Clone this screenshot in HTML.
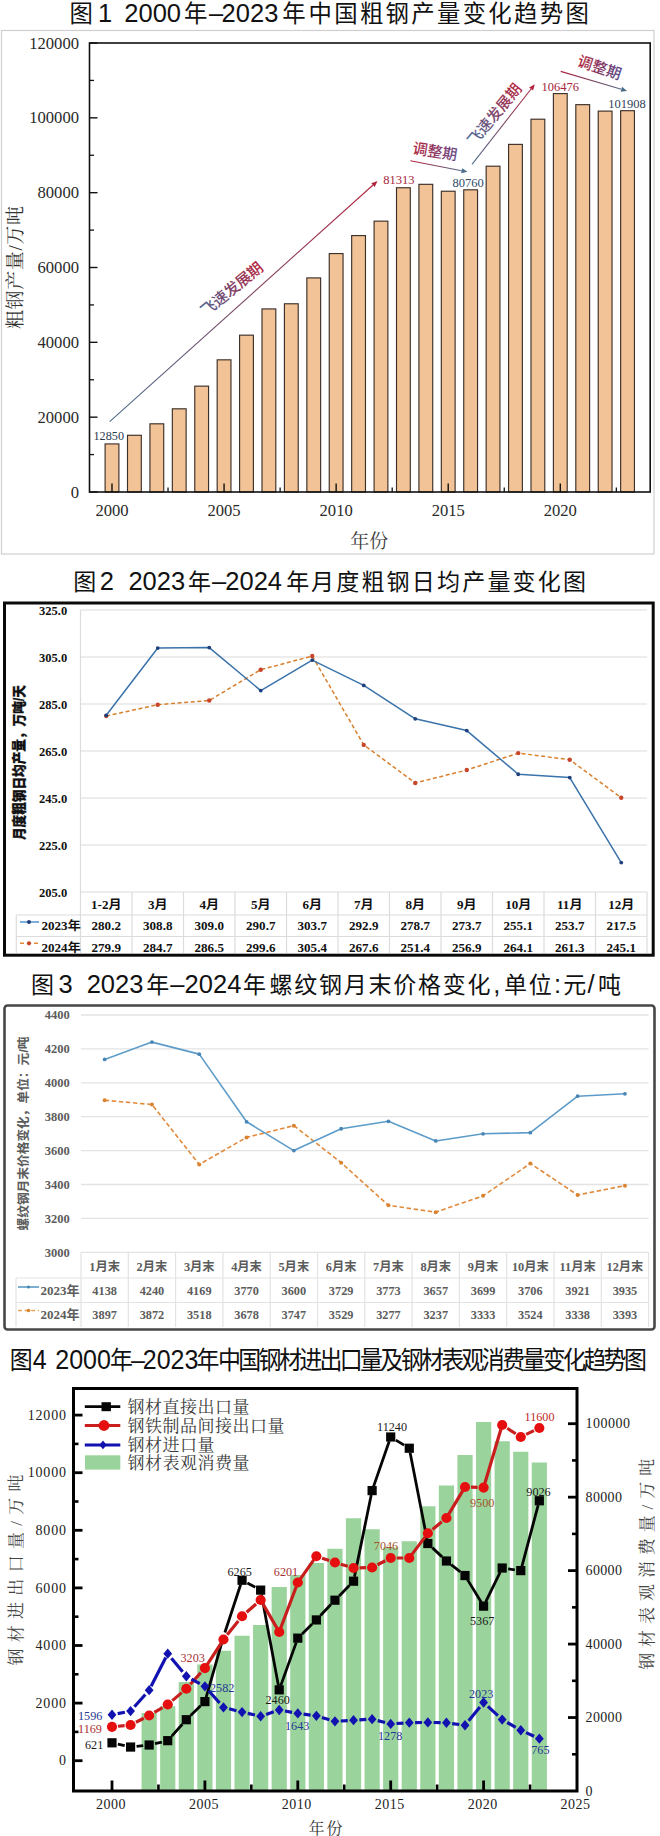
<!DOCTYPE html>
<html lang="zh"><head><meta charset="utf-8"><title>钢铁行业图表</title>
<style>
html,body{margin:0;padding:0;background:#fff;}
body{width:660px;height:1836px;overflow:hidden;}
svg{display:block;}
</style></head><body>
<svg width="660" height="1836" viewBox="0 0 660 1836">
<defs>
<linearGradient id="gbr" gradientUnits="objectBoundingBox" x1="0" y1="0" x2="1" y2="0"><stop offset="0" stop-color="#4b6f8f"/><stop offset="1" stop-color="#b3263f"/></linearGradient>
</defs>
<text y="21.9" fill="#111" font-family='"Liberation Sans","Noto Sans CJK SC",sans-serif' xml:space="preserve"><tspan x="69.6" font-size="23.4">图</tspan><tspan x="98" font-size="25.5">1</tspan><tspan x="124.3" font-size="25.5">2000</tspan><tspan x="184" font-size="23.4">年</tspan><tspan x="209" font-size="25.5">–</tspan><tspan x="221.6" font-size="25.5">2023</tspan><tspan x="282.2" font-size="23.4">年</tspan><tspan x="308.5" font-size="23.4" letter-spacing="2.3">中国粗钢产量变化趋势图</tspan></text>
<rect x="1.50" y="30.50" width="652.50" height="523.50" fill="none" stroke="#cfcfcf" stroke-width="1.2" />
<rect x="105.10" y="443.92" width="13.80" height="48.08" fill="#f1c396" stroke="#3d302a" stroke-width="1.15" />
<rect x="127.51" y="435.27" width="13.80" height="56.73" fill="#f1c396" stroke="#3d302a" stroke-width="1.15" />
<rect x="149.93" y="423.81" width="13.80" height="68.19" fill="#f1c396" stroke="#3d302a" stroke-width="1.15" />
<rect x="172.34" y="408.81" width="13.80" height="83.19" fill="#f1c396" stroke="#3d302a" stroke-width="1.15" />
<rect x="194.76" y="386.14" width="13.80" height="105.86" fill="#f1c396" stroke="#3d302a" stroke-width="1.15" />
<rect x="217.17" y="359.83" width="13.80" height="132.17" fill="#f1c396" stroke="#3d302a" stroke-width="1.15" />
<rect x="239.59" y="335.17" width="13.80" height="156.83" fill="#f1c396" stroke="#3d302a" stroke-width="1.15" />
<rect x="262.00" y="308.92" width="13.80" height="183.08" fill="#f1c396" stroke="#3d302a" stroke-width="1.15" />
<rect x="284.42" y="303.77" width="13.80" height="188.23" fill="#f1c396" stroke="#3d302a" stroke-width="1.15" />
<rect x="306.84" y="277.91" width="13.80" height="214.09" fill="#f1c396" stroke="#3d302a" stroke-width="1.15" />
<rect x="329.25" y="253.57" width="13.80" height="238.43" fill="#f1c396" stroke="#3d302a" stroke-width="1.15" />
<rect x="351.67" y="235.59" width="13.80" height="256.41" fill="#f1c396" stroke="#3d302a" stroke-width="1.15" />
<rect x="374.08" y="221.15" width="13.80" height="270.85" fill="#f1c396" stroke="#3d302a" stroke-width="1.15" />
<rect x="396.50" y="187.75" width="13.80" height="304.25" fill="#f1c396" stroke="#3d302a" stroke-width="1.15" />
<rect x="418.91" y="184.32" width="13.80" height="307.68" fill="#f1c396" stroke="#3d302a" stroke-width="1.15" />
<rect x="441.32" y="191.23" width="13.80" height="300.77" fill="#f1c396" stroke="#3d302a" stroke-width="1.15" />
<rect x="463.74" y="189.82" width="13.80" height="302.18" fill="#f1c396" stroke="#3d302a" stroke-width="1.15" />
<rect x="486.16" y="166.20" width="13.80" height="325.80" fill="#f1c396" stroke="#3d302a" stroke-width="1.15" />
<rect x="508.57" y="144.38" width="13.80" height="347.62" fill="#f1c396" stroke="#3d302a" stroke-width="1.15" />
<rect x="530.99" y="119.20" width="13.80" height="372.80" fill="#f1c396" stroke="#3d302a" stroke-width="1.15" />
<rect x="553.40" y="93.60" width="13.80" height="398.40" fill="#f1c396" stroke="#3d302a" stroke-width="1.15" />
<rect x="575.81" y="104.65" width="13.80" height="387.35" fill="#f1c396" stroke="#3d302a" stroke-width="1.15" />
<rect x="598.23" y="111.11" width="13.80" height="380.89" fill="#f1c396" stroke="#3d302a" stroke-width="1.15" />
<rect x="620.64" y="110.69" width="13.80" height="381.31" fill="#f1c396" stroke="#3d302a" stroke-width="1.15" />
<line x1="89.50" y1="492.00" x2="97.50" y2="492.00" stroke="#111" stroke-width="1.4" />
<text x="79.00" y="497.50" font-size="16.6" text-anchor="end" fill="#2a2a2a" font-family='"Liberation Serif","Noto Serif CJK SC",serif' xml:space="preserve">0</text>
<line x1="89.50" y1="454.58" x2="94.00" y2="454.58" stroke="#111" stroke-width="1.3" />
<line x1="89.50" y1="417.17" x2="97.50" y2="417.17" stroke="#111" stroke-width="1.4" />
<text x="79.00" y="422.67" font-size="16.6" text-anchor="end" fill="#2a2a2a" font-family='"Liberation Serif","Noto Serif CJK SC",serif' xml:space="preserve">20000</text>
<line x1="89.50" y1="379.75" x2="94.00" y2="379.75" stroke="#111" stroke-width="1.3" />
<line x1="89.50" y1="342.33" x2="97.50" y2="342.33" stroke="#111" stroke-width="1.4" />
<text x="79.00" y="347.83" font-size="16.6" text-anchor="end" fill="#2a2a2a" font-family='"Liberation Serif","Noto Serif CJK SC",serif' xml:space="preserve">40000</text>
<line x1="89.50" y1="304.92" x2="94.00" y2="304.92" stroke="#111" stroke-width="1.3" />
<line x1="89.50" y1="267.50" x2="97.50" y2="267.50" stroke="#111" stroke-width="1.4" />
<text x="79.00" y="273.00" font-size="16.6" text-anchor="end" fill="#2a2a2a" font-family='"Liberation Serif","Noto Serif CJK SC",serif' xml:space="preserve">60000</text>
<line x1="89.50" y1="230.08" x2="94.00" y2="230.08" stroke="#111" stroke-width="1.3" />
<line x1="89.50" y1="192.67" x2="97.50" y2="192.67" stroke="#111" stroke-width="1.4" />
<text x="79.00" y="198.17" font-size="16.6" text-anchor="end" fill="#2a2a2a" font-family='"Liberation Serif","Noto Serif CJK SC",serif' xml:space="preserve">80000</text>
<line x1="89.50" y1="155.25" x2="94.00" y2="155.25" stroke="#111" stroke-width="1.3" />
<line x1="89.50" y1="117.83" x2="97.50" y2="117.83" stroke="#111" stroke-width="1.4" />
<text x="79.00" y="123.33" font-size="16.6" text-anchor="end" fill="#2a2a2a" font-family='"Liberation Serif","Noto Serif CJK SC",serif' xml:space="preserve">100000</text>
<line x1="89.50" y1="80.42" x2="94.00" y2="80.42" stroke="#111" stroke-width="1.3" />
<line x1="89.50" y1="43.00" x2="97.50" y2="43.00" stroke="#111" stroke-width="1.4" />
<text x="79.00" y="48.50" font-size="16.6" text-anchor="end" fill="#2a2a2a" font-family='"Liberation Serif","Noto Serif CJK SC",serif' xml:space="preserve">120000</text>
<line x1="112.00" y1="492.00" x2="112.00" y2="483.50" stroke="#111" stroke-width="1.4" />
<text x="112.00" y="515.50" font-size="16.6" text-anchor="middle" fill="#2a2a2a" font-family='"Liberation Serif","Noto Serif CJK SC",serif' xml:space="preserve">2000</text>
<line x1="168.04" y1="492.00" x2="168.04" y2="487.50" stroke="#111" stroke-width="1.3" />
<line x1="224.07" y1="492.00" x2="224.07" y2="483.50" stroke="#111" stroke-width="1.4" />
<text x="224.07" y="515.50" font-size="16.6" text-anchor="middle" fill="#2a2a2a" font-family='"Liberation Serif","Noto Serif CJK SC",serif' xml:space="preserve">2005</text>
<line x1="280.11" y1="492.00" x2="280.11" y2="487.50" stroke="#111" stroke-width="1.3" />
<line x1="336.15" y1="492.00" x2="336.15" y2="483.50" stroke="#111" stroke-width="1.4" />
<text x="336.15" y="515.50" font-size="16.6" text-anchor="middle" fill="#2a2a2a" font-family='"Liberation Serif","Noto Serif CJK SC",serif' xml:space="preserve">2010</text>
<line x1="392.19" y1="492.00" x2="392.19" y2="487.50" stroke="#111" stroke-width="1.3" />
<line x1="448.22" y1="492.00" x2="448.22" y2="483.50" stroke="#111" stroke-width="1.4" />
<text x="448.22" y="515.50" font-size="16.6" text-anchor="middle" fill="#2a2a2a" font-family='"Liberation Serif","Noto Serif CJK SC",serif' xml:space="preserve">2015</text>
<line x1="504.26" y1="492.00" x2="504.26" y2="487.50" stroke="#111" stroke-width="1.3" />
<line x1="560.30" y1="492.00" x2="560.30" y2="483.50" stroke="#111" stroke-width="1.4" />
<text x="560.30" y="515.50" font-size="16.6" text-anchor="middle" fill="#2a2a2a" font-family='"Liberation Serif","Noto Serif CJK SC",serif' xml:space="preserve">2020</text>
<line x1="616.34" y1="492.00" x2="616.34" y2="487.50" stroke="#111" stroke-width="1.3" />
<rect x="89.50" y="43.00" width="560.70" height="449.00" fill="none" stroke="#111" stroke-width="1.6" />
<text x="369.30" y="548.30" font-size="19" text-anchor="middle" fill="#3c3c3c" font-family='"Liberation Serif","Noto Serif CJK SC",serif' xml:space="preserve">年份</text>
<text transform="translate(21.5,267.5) rotate(-90)" font-size="19" text-anchor="middle" fill="#333" font-family='"Liberation Serif","Noto Serif CJK SC",serif' textLength="123" lengthAdjust="spacing">粗钢产量/万吨</text>
<defs><linearGradient id="ag1" gradientUnits="userSpaceOnUse" x1="109.7" y1="421.6" x2="377.5" y2="181.0"><stop offset="0" stop-color="#4a6d8c"/><stop offset="1" stop-color="#b2233d"/></linearGradient></defs>
<line x1="109.7" y1="421.6" x2="373.04" y2="185.01" stroke="url(#ag1)" stroke-width="1.1"/>
<polygon points="377.50,181.00 374.72,186.88 371.35,183.14" fill="#b2233d"/>
<defs><linearGradient id="tg2" gradientUnits="userSpaceOnUse" x1="-37.5" y1="0" x2="37.5" y2="0"><stop offset="0" stop-color="#52608f"/><stop offset="1" stop-color="#b2233d"/></linearGradient></defs>
<text transform="translate(231.8,289.0) rotate(-39.5)" font-size="15.3" text-anchor="middle" fill="url(#tg2)" font-weight="500" font-family='"Liberation Sans","Noto Sans CJK SC",sans-serif' textLength="75" lengthAdjust="spacing" y="5.5">飞速发展期</text>
<defs><linearGradient id="ag3" gradientUnits="userSpaceOnUse" x1="410.4" y1="160.8" x2="467.5" y2="171.8"><stop offset="0" stop-color="#b2233d"/><stop offset="1" stop-color="#4a6d8c"/></linearGradient></defs>
<line x1="410.4" y1="160.8" x2="461.61" y2="170.67" stroke="url(#ag3)" stroke-width="1.1"/>
<polygon points="467.50,171.80 461.13,173.14 462.09,168.19" fill="#4a6d8c"/>
<defs><linearGradient id="tg4" gradientUnits="userSpaceOnUse" x1="-22.5" y1="0" x2="22.5" y2="0"><stop offset="0" stop-color="#b2233d"/><stop offset="1" stop-color="#6a4a8a"/></linearGradient></defs>
<text transform="translate(435,151.5) rotate(9)" font-size="15" text-anchor="middle" fill="url(#tg4)" font-weight="500" font-family='"Liberation Sans","Noto Sans CJK SC",sans-serif' textLength="45" lengthAdjust="spacing" y="5.4">调整期</text>
<defs><linearGradient id="ag5" gradientUnits="userSpaceOnUse" x1="472" y1="164.3" x2="534.8" y2="84.3"><stop offset="0" stop-color="#4a6d8c"/><stop offset="1" stop-color="#b2233d"/></linearGradient></defs>
<line x1="472" y1="164.3" x2="531.10" y2="89.02" stroke="url(#ag5)" stroke-width="1.1"/>
<polygon points="534.80,84.30 533.08,90.58 529.11,87.46" fill="#b2233d"/>
<defs><linearGradient id="tg6" gradientUnits="userSpaceOnUse" x1="-37.5" y1="0" x2="37.5" y2="0"><stop offset="0" stop-color="#4a6d9c"/><stop offset="1" stop-color="#b2233d"/></linearGradient></defs>
<text transform="translate(494.5,114.5) rotate(-50.5)" font-size="15" text-anchor="middle" fill="url(#tg6)" font-weight="500" font-family='"Liberation Sans","Noto Sans CJK SC",sans-serif' textLength="75" lengthAdjust="spacing" y="5.4">飞速发展期</text>
<defs><linearGradient id="ag7" gradientUnits="userSpaceOnUse" x1="560.7" y1="71.4" x2="627.1" y2="90.9"><stop offset="0" stop-color="#b2233d"/><stop offset="1" stop-color="#4a6d8c"/></linearGradient></defs>
<line x1="560.7" y1="71.4" x2="621.34" y2="89.21" stroke="url(#ag7)" stroke-width="1.1"/>
<polygon points="627.10,90.90 620.63,91.63 622.05,86.79" fill="#4a6d8c"/>
<defs><linearGradient id="tg8" gradientUnits="userSpaceOnUse" x1="-22.5" y1="0" x2="22.5" y2="0"><stop offset="0" stop-color="#b2233d"/><stop offset="1" stop-color="#5a4a8a"/></linearGradient></defs>
<text transform="translate(599.5,67.5) rotate(18.5)" font-size="15" text-anchor="middle" fill="url(#tg8)" font-weight="500" font-family='"Liberation Sans","Noto Sans CJK SC",sans-serif' textLength="45" lengthAdjust="spacing" y="5.4">调整期</text>
<text x="93.50" y="440.00" font-size="12.2" text-anchor="start" fill="#2d3b4e" font-family='"Liberation Serif","Noto Serif CJK SC",serif' xml:space="preserve">12850</text>
<text x="383.20" y="184.00" font-size="12.5" text-anchor="start" fill="#a8243c" font-family='"Liberation Serif","Noto Serif CJK SC",serif' xml:space="preserve">81313</text>
<text x="452.60" y="187.20" font-size="12.5" text-anchor="start" fill="#2f4a6a" font-family='"Liberation Serif","Noto Serif CJK SC",serif' xml:space="preserve">80760</text>
<text x="541.50" y="90.60" font-size="12.5" text-anchor="start" fill="#a8243c" font-family='"Liberation Serif","Noto Serif CJK SC",serif' xml:space="preserve">106476</text>
<text x="608.30" y="108.20" font-size="12.5" text-anchor="start" fill="#2f3f5a" font-family='"Liberation Serif","Noto Serif CJK SC",serif' xml:space="preserve">101908</text>
<text y="590.2" fill="#111" font-family='"Liberation Sans","Noto Sans CJK SC",sans-serif' xml:space="preserve"><tspan x="73.3" font-size="23">图</tspan><tspan x="99.8" font-size="25.5">2</tspan><tspan x="128.4" font-size="25.5">2023</tspan><tspan x="188.1" font-size="23">年</tspan><tspan x="212" font-size="25.5">–</tspan><tspan x="225.3" font-size="25.5">2024</tspan><tspan x="286.2" font-size="23">年</tspan><tspan x="311.0" font-size="23" letter-spacing="2.2">月度粗钢日均产量变化图</tspan></text>
<line x1="80.50" y1="610.00" x2="647.00" y2="610.00" stroke="#dcdcdc" stroke-width="1.2" />
<text transform="translate(67.20,614.60) scale(1.09,1)" font-size="11.5" text-anchor="end" fill="#111" font-family='"Liberation Serif","Noto Sans CJK SC",serif' xml:space="preserve" font-weight="bold">325.0</text>
<line x1="80.50" y1="657.00" x2="647.00" y2="657.00" stroke="#dcdcdc" stroke-width="1.2" />
<text transform="translate(67.20,661.60) scale(1.09,1)" font-size="11.5" text-anchor="end" fill="#111" font-family='"Liberation Serif","Noto Sans CJK SC",serif' xml:space="preserve" font-weight="bold">305.0</text>
<line x1="80.50" y1="704.00" x2="647.00" y2="704.00" stroke="#dcdcdc" stroke-width="1.2" />
<text transform="translate(67.20,708.60) scale(1.09,1)" font-size="11.5" text-anchor="end" fill="#111" font-family='"Liberation Serif","Noto Sans CJK SC",serif' xml:space="preserve" font-weight="bold">285.0</text>
<line x1="80.50" y1="751.00" x2="647.00" y2="751.00" stroke="#dcdcdc" stroke-width="1.2" />
<text transform="translate(67.20,755.60) scale(1.09,1)" font-size="11.5" text-anchor="end" fill="#111" font-family='"Liberation Serif","Noto Sans CJK SC",serif' xml:space="preserve" font-weight="bold">265.0</text>
<line x1="80.50" y1="798.00" x2="647.00" y2="798.00" stroke="#dcdcdc" stroke-width="1.2" />
<text transform="translate(67.20,802.60) scale(1.09,1)" font-size="11.5" text-anchor="end" fill="#111" font-family='"Liberation Serif","Noto Sans CJK SC",serif' xml:space="preserve" font-weight="bold">245.0</text>
<line x1="80.50" y1="845.00" x2="647.00" y2="845.00" stroke="#dcdcdc" stroke-width="1.2" />
<text transform="translate(67.20,849.60) scale(1.09,1)" font-size="11.5" text-anchor="end" fill="#111" font-family='"Liberation Serif","Noto Sans CJK SC",serif' xml:space="preserve" font-weight="bold">225.0</text>
<line x1="80.50" y1="892.00" x2="647.00" y2="892.00" stroke="#dcdcdc" stroke-width="1.2" />
<text transform="translate(67.20,896.60) scale(1.09,1)" font-size="11.5" text-anchor="end" fill="#111" font-family='"Liberation Serif","Noto Sans CJK SC",serif' xml:space="preserve" font-weight="bold">205.0</text>
<line x1="80.50" y1="610.00" x2="80.50" y2="953.00" stroke="#dcdcdc" stroke-width="1.2" />
<line x1="16.30" y1="915.00" x2="647.00" y2="915.00" stroke="#dcdcdc" stroke-width="1.2" />
<line x1="16.30" y1="936.50" x2="647.00" y2="936.50" stroke="#dcdcdc" stroke-width="1.2" />
<line x1="16.30" y1="915.00" x2="16.30" y2="953.00" stroke="#dcdcdc" stroke-width="1.2" />
<line x1="132.00" y1="892.00" x2="132.00" y2="953.00" stroke="#dcdcdc" stroke-width="1.2" />
<line x1="183.50" y1="892.00" x2="183.50" y2="953.00" stroke="#dcdcdc" stroke-width="1.2" />
<line x1="235.00" y1="892.00" x2="235.00" y2="953.00" stroke="#dcdcdc" stroke-width="1.2" />
<line x1="286.50" y1="892.00" x2="286.50" y2="953.00" stroke="#dcdcdc" stroke-width="1.2" />
<line x1="338.00" y1="892.00" x2="338.00" y2="953.00" stroke="#dcdcdc" stroke-width="1.2" />
<line x1="389.50" y1="892.00" x2="389.50" y2="953.00" stroke="#dcdcdc" stroke-width="1.2" />
<line x1="441.00" y1="892.00" x2="441.00" y2="953.00" stroke="#dcdcdc" stroke-width="1.2" />
<line x1="492.50" y1="892.00" x2="492.50" y2="953.00" stroke="#dcdcdc" stroke-width="1.2" />
<line x1="544.00" y1="892.00" x2="544.00" y2="953.00" stroke="#dcdcdc" stroke-width="1.2" />
<line x1="595.50" y1="892.00" x2="595.50" y2="953.00" stroke="#dcdcdc" stroke-width="1.2" />
<line x1="647.00" y1="892.00" x2="647.00" y2="953.00" stroke="#dcdcdc" stroke-width="1.2" />
<text transform="translate(106.25,908.80) scale(1.09,1)" font-size="12" text-anchor="middle" fill="#111" font-family='"Liberation Serif","Noto Sans CJK SC",serif' xml:space="preserve" font-weight="bold">1-2月</text>
<text transform="translate(106.25,930.20) scale(1.09,1)" font-size="12" text-anchor="middle" fill="#111" font-family='"Liberation Serif","Noto Sans CJK SC",serif' xml:space="preserve" font-weight="bold">280.2</text>
<text transform="translate(106.25,951.60) scale(1.09,1)" font-size="12" text-anchor="middle" fill="#111" font-family='"Liberation Serif","Noto Sans CJK SC",serif' xml:space="preserve" font-weight="bold">279.9</text>
<text transform="translate(157.75,908.80) scale(1.09,1)" font-size="12" text-anchor="middle" fill="#111" font-family='"Liberation Serif","Noto Sans CJK SC",serif' xml:space="preserve" font-weight="bold">3月</text>
<text transform="translate(157.75,930.20) scale(1.09,1)" font-size="12" text-anchor="middle" fill="#111" font-family='"Liberation Serif","Noto Sans CJK SC",serif' xml:space="preserve" font-weight="bold">308.8</text>
<text transform="translate(157.75,951.60) scale(1.09,1)" font-size="12" text-anchor="middle" fill="#111" font-family='"Liberation Serif","Noto Sans CJK SC",serif' xml:space="preserve" font-weight="bold">284.7</text>
<text transform="translate(209.25,908.80) scale(1.09,1)" font-size="12" text-anchor="middle" fill="#111" font-family='"Liberation Serif","Noto Sans CJK SC",serif' xml:space="preserve" font-weight="bold">4月</text>
<text transform="translate(209.25,930.20) scale(1.09,1)" font-size="12" text-anchor="middle" fill="#111" font-family='"Liberation Serif","Noto Sans CJK SC",serif' xml:space="preserve" font-weight="bold">309.0</text>
<text transform="translate(209.25,951.60) scale(1.09,1)" font-size="12" text-anchor="middle" fill="#111" font-family='"Liberation Serif","Noto Sans CJK SC",serif' xml:space="preserve" font-weight="bold">286.5</text>
<text transform="translate(260.75,908.80) scale(1.09,1)" font-size="12" text-anchor="middle" fill="#111" font-family='"Liberation Serif","Noto Sans CJK SC",serif' xml:space="preserve" font-weight="bold">5月</text>
<text transform="translate(260.75,930.20) scale(1.09,1)" font-size="12" text-anchor="middle" fill="#111" font-family='"Liberation Serif","Noto Sans CJK SC",serif' xml:space="preserve" font-weight="bold">290.7</text>
<text transform="translate(260.75,951.60) scale(1.09,1)" font-size="12" text-anchor="middle" fill="#111" font-family='"Liberation Serif","Noto Sans CJK SC",serif' xml:space="preserve" font-weight="bold">299.6</text>
<text transform="translate(312.25,908.80) scale(1.09,1)" font-size="12" text-anchor="middle" fill="#111" font-family='"Liberation Serif","Noto Sans CJK SC",serif' xml:space="preserve" font-weight="bold">6月</text>
<text transform="translate(312.25,930.20) scale(1.09,1)" font-size="12" text-anchor="middle" fill="#111" font-family='"Liberation Serif","Noto Sans CJK SC",serif' xml:space="preserve" font-weight="bold">303.7</text>
<text transform="translate(312.25,951.60) scale(1.09,1)" font-size="12" text-anchor="middle" fill="#111" font-family='"Liberation Serif","Noto Sans CJK SC",serif' xml:space="preserve" font-weight="bold">305.4</text>
<text transform="translate(363.75,908.80) scale(1.09,1)" font-size="12" text-anchor="middle" fill="#111" font-family='"Liberation Serif","Noto Sans CJK SC",serif' xml:space="preserve" font-weight="bold">7月</text>
<text transform="translate(363.75,930.20) scale(1.09,1)" font-size="12" text-anchor="middle" fill="#111" font-family='"Liberation Serif","Noto Sans CJK SC",serif' xml:space="preserve" font-weight="bold">292.9</text>
<text transform="translate(363.75,951.60) scale(1.09,1)" font-size="12" text-anchor="middle" fill="#111" font-family='"Liberation Serif","Noto Sans CJK SC",serif' xml:space="preserve" font-weight="bold">267.6</text>
<text transform="translate(415.25,908.80) scale(1.09,1)" font-size="12" text-anchor="middle" fill="#111" font-family='"Liberation Serif","Noto Sans CJK SC",serif' xml:space="preserve" font-weight="bold">8月</text>
<text transform="translate(415.25,930.20) scale(1.09,1)" font-size="12" text-anchor="middle" fill="#111" font-family='"Liberation Serif","Noto Sans CJK SC",serif' xml:space="preserve" font-weight="bold">278.7</text>
<text transform="translate(415.25,951.60) scale(1.09,1)" font-size="12" text-anchor="middle" fill="#111" font-family='"Liberation Serif","Noto Sans CJK SC",serif' xml:space="preserve" font-weight="bold">251.4</text>
<text transform="translate(466.75,908.80) scale(1.09,1)" font-size="12" text-anchor="middle" fill="#111" font-family='"Liberation Serif","Noto Sans CJK SC",serif' xml:space="preserve" font-weight="bold">9月</text>
<text transform="translate(466.75,930.20) scale(1.09,1)" font-size="12" text-anchor="middle" fill="#111" font-family='"Liberation Serif","Noto Sans CJK SC",serif' xml:space="preserve" font-weight="bold">273.7</text>
<text transform="translate(466.75,951.60) scale(1.09,1)" font-size="12" text-anchor="middle" fill="#111" font-family='"Liberation Serif","Noto Sans CJK SC",serif' xml:space="preserve" font-weight="bold">256.9</text>
<text transform="translate(518.25,908.80) scale(1.09,1)" font-size="12" text-anchor="middle" fill="#111" font-family='"Liberation Serif","Noto Sans CJK SC",serif' xml:space="preserve" font-weight="bold">10月</text>
<text transform="translate(518.25,930.20) scale(1.09,1)" font-size="12" text-anchor="middle" fill="#111" font-family='"Liberation Serif","Noto Sans CJK SC",serif' xml:space="preserve" font-weight="bold">255.1</text>
<text transform="translate(518.25,951.60) scale(1.09,1)" font-size="12" text-anchor="middle" fill="#111" font-family='"Liberation Serif","Noto Sans CJK SC",serif' xml:space="preserve" font-weight="bold">264.1</text>
<text transform="translate(569.75,908.80) scale(1.09,1)" font-size="12" text-anchor="middle" fill="#111" font-family='"Liberation Serif","Noto Sans CJK SC",serif' xml:space="preserve" font-weight="bold">11月</text>
<text transform="translate(569.75,930.20) scale(1.09,1)" font-size="12" text-anchor="middle" fill="#111" font-family='"Liberation Serif","Noto Sans CJK SC",serif' xml:space="preserve" font-weight="bold">253.7</text>
<text transform="translate(569.75,951.60) scale(1.09,1)" font-size="12" text-anchor="middle" fill="#111" font-family='"Liberation Serif","Noto Sans CJK SC",serif' xml:space="preserve" font-weight="bold">261.3</text>
<text transform="translate(621.25,908.80) scale(1.09,1)" font-size="12" text-anchor="middle" fill="#111" font-family='"Liberation Serif","Noto Sans CJK SC",serif' xml:space="preserve" font-weight="bold">12月</text>
<text transform="translate(621.25,930.20) scale(1.09,1)" font-size="12" text-anchor="middle" fill="#111" font-family='"Liberation Serif","Noto Sans CJK SC",serif' xml:space="preserve" font-weight="bold">217.5</text>
<text transform="translate(621.25,951.60) scale(1.09,1)" font-size="12" text-anchor="middle" fill="#111" font-family='"Liberation Serif","Noto Sans CJK SC",serif' xml:space="preserve" font-weight="bold">245.1</text>
<polyline points="106.25,715.99 157.75,704.71 209.25,700.48 260.75,669.69 312.25,656.06 363.75,744.89 415.25,782.96 466.75,770.04 518.25,753.12 569.75,759.69 621.25,797.76" fill="none" stroke="#d9802e" stroke-width="1.5" stroke-linejoin="round" stroke-dasharray="4 2.6"/>
<polyline points="106.25,715.28 157.75,648.07 209.25,647.60 260.75,690.61 312.25,660.06 363.75,685.44 415.25,718.81 466.75,730.56 518.25,774.26 569.75,777.56 621.25,862.62" fill="none" stroke="#3a72aa" stroke-width="1.5" stroke-linejoin="round" />
<circle cx="106.25" cy="715.99" r="2.2" fill="#c8452a"/>
<circle cx="157.75" cy="704.71" r="2.2" fill="#c8452a"/>
<circle cx="209.25" cy="700.48" r="2.2" fill="#c8452a"/>
<circle cx="260.75" cy="669.69" r="2.2" fill="#c8452a"/>
<circle cx="312.25" cy="656.06" r="2.2" fill="#c8452a"/>
<circle cx="363.75" cy="744.89" r="2.2" fill="#c8452a"/>
<circle cx="415.25" cy="782.96" r="2.2" fill="#c8452a"/>
<circle cx="466.75" cy="770.04" r="2.2" fill="#c8452a"/>
<circle cx="518.25" cy="753.12" r="2.2" fill="#c8452a"/>
<circle cx="569.75" cy="759.69" r="2.2" fill="#c8452a"/>
<circle cx="621.25" cy="797.76" r="2.2" fill="#c8452a"/>
<circle cx="106.25" cy="715.28" r="1.9" fill="#1f3f7a"/>
<circle cx="157.75" cy="648.07" r="1.9" fill="#1f3f7a"/>
<circle cx="209.25" cy="647.60" r="1.9" fill="#1f3f7a"/>
<circle cx="260.75" cy="690.61" r="1.9" fill="#1f3f7a"/>
<circle cx="312.25" cy="660.06" r="1.9" fill="#1f3f7a"/>
<circle cx="363.75" cy="685.44" r="1.9" fill="#1f3f7a"/>
<circle cx="415.25" cy="718.81" r="1.9" fill="#1f3f7a"/>
<circle cx="466.75" cy="730.56" r="1.9" fill="#1f3f7a"/>
<circle cx="518.25" cy="774.26" r="1.9" fill="#1f3f7a"/>
<circle cx="569.75" cy="777.56" r="1.9" fill="#1f3f7a"/>
<circle cx="621.25" cy="862.62" r="1.9" fill="#1f3f7a"/>
<line x1="20.00" y1="922.00" x2="39.00" y2="922.00" stroke="#5b9bd5" stroke-width="1.6" />
<circle cx="29" cy="922" r="2" fill="#1f3f7a"/>
<line x1="20.00" y1="943.30" x2="39.00" y2="943.30" stroke="#e08a3a" stroke-width="1.6" stroke-dasharray="4 3"/>
<circle cx="29" cy="943.3" r="2.1" fill="#c8452a"/>
<text transform="translate(41.50,930.20) scale(1.09,1)" font-size="12" text-anchor="start" fill="#111" font-family='"Liberation Serif","Noto Sans CJK SC",serif' xml:space="preserve" font-weight="bold">2023年</text>
<text transform="translate(41.50,951.60) scale(1.09,1)" font-size="12" text-anchor="start" fill="#111" font-family='"Liberation Serif","Noto Sans CJK SC",serif' xml:space="preserve" font-weight="bold">2024年</text>
<text transform="translate(24.3,762.5) rotate(-90)" font-size="14" font-weight="900" text-anchor="middle" fill="#111" stroke="#111" stroke-width="0.3" font-family='"Liberation Sans","Noto Sans CJK SC",sans-serif' textLength="155" lengthAdjust="spacingAndGlyphs">月度粗钢日均产量，万吨/天</text>
<rect x="4.50" y="603.00" width="648.70" height="352.20" fill="none" stroke="#0a0a0a" stroke-width="3" />
<text y="993.2" fill="#111" font-family='"Liberation Sans","Noto Sans CJK SC",sans-serif' xml:space="preserve"><tspan x="31.1" font-size="23">图</tspan><tspan x="58.6" font-size="25.5">3</tspan><tspan x="86.7" font-size="25.5">2023</tspan><tspan x="146.2" font-size="23">年</tspan><tspan x="170.3" font-size="25.5">–</tspan><tspan x="184.6" font-size="25.5">2024</tspan><tspan x="243" font-size="23">年</tspan><tspan x="269.5" font-size="23" letter-spacing="1.75">螺纹钢月末价格变化</tspan><tspan x="493.3" font-size="25.5">,</tspan><tspan x="504" font-size="23" letter-spacing="1.75">单位</tspan><tspan x="553.9" font-size="25.5">:</tspan><tspan x="563.2" font-size="23">元</tspan><tspan x="587.6" font-size="25.5">/</tspan><tspan x="598" font-size="23">吨</tspan></text>
<line x1="81.00" y1="1015.00" x2="648.60" y2="1015.00" stroke="#e3e3e3" stroke-width="1.3" />
<text x="69.80" y="1019.40" font-size="12.5" text-anchor="end" fill="#5c5c5c" font-family='"Liberation Serif","Noto Sans CJK SC",serif' xml:space="preserve" font-weight="bold">4400</text>
<line x1="81.00" y1="1048.90" x2="648.60" y2="1048.90" stroke="#e3e3e3" stroke-width="1.3" />
<text x="69.80" y="1053.30" font-size="12.5" text-anchor="end" fill="#5c5c5c" font-family='"Liberation Serif","Noto Sans CJK SC",serif' xml:space="preserve" font-weight="bold">4200</text>
<line x1="81.00" y1="1082.80" x2="648.60" y2="1082.80" stroke="#e3e3e3" stroke-width="1.3" />
<text x="69.80" y="1087.20" font-size="12.5" text-anchor="end" fill="#5c5c5c" font-family='"Liberation Serif","Noto Sans CJK SC",serif' xml:space="preserve" font-weight="bold">4000</text>
<line x1="81.00" y1="1116.70" x2="648.60" y2="1116.70" stroke="#e3e3e3" stroke-width="1.3" />
<text x="69.80" y="1121.10" font-size="12.5" text-anchor="end" fill="#5c5c5c" font-family='"Liberation Serif","Noto Sans CJK SC",serif' xml:space="preserve" font-weight="bold">3800</text>
<line x1="81.00" y1="1150.60" x2="648.60" y2="1150.60" stroke="#e3e3e3" stroke-width="1.3" />
<text x="69.80" y="1155.00" font-size="12.5" text-anchor="end" fill="#5c5c5c" font-family='"Liberation Serif","Noto Sans CJK SC",serif' xml:space="preserve" font-weight="bold">3600</text>
<line x1="81.00" y1="1184.50" x2="648.60" y2="1184.50" stroke="#e3e3e3" stroke-width="1.3" />
<text x="69.80" y="1188.90" font-size="12.5" text-anchor="end" fill="#5c5c5c" font-family='"Liberation Serif","Noto Sans CJK SC",serif' xml:space="preserve" font-weight="bold">3400</text>
<line x1="81.00" y1="1218.40" x2="648.60" y2="1218.40" stroke="#e3e3e3" stroke-width="1.3" />
<text x="69.80" y="1222.80" font-size="12.5" text-anchor="end" fill="#5c5c5c" font-family='"Liberation Serif","Noto Sans CJK SC",serif' xml:space="preserve" font-weight="bold">3200</text>
<line x1="81.00" y1="1252.30" x2="648.60" y2="1252.30" stroke="#e3e3e3" stroke-width="1.3" />
<text x="69.80" y="1256.70" font-size="12.5" text-anchor="end" fill="#5c5c5c" font-family='"Liberation Serif","Noto Sans CJK SC",serif' xml:space="preserve" font-weight="bold">3000</text>
<line x1="81.00" y1="1252.30" x2="81.00" y2="1327.00" stroke="#e3e3e3" stroke-width="1.2" />
<line x1="16.00" y1="1278.00" x2="648.60" y2="1278.00" stroke="#e3e3e3" stroke-width="1.2" />
<line x1="16.00" y1="1302.50" x2="648.60" y2="1302.50" stroke="#e3e3e3" stroke-width="1.2" />
<line x1="16.00" y1="1278.00" x2="16.00" y2="1327.00" stroke="#e3e3e3" stroke-width="1.2" />
<line x1="128.30" y1="1252.30" x2="128.30" y2="1327.00" stroke="#e3e3e3" stroke-width="1.2" />
<line x1="175.60" y1="1252.30" x2="175.60" y2="1327.00" stroke="#e3e3e3" stroke-width="1.2" />
<line x1="222.90" y1="1252.30" x2="222.90" y2="1327.00" stroke="#e3e3e3" stroke-width="1.2" />
<line x1="270.20" y1="1252.30" x2="270.20" y2="1327.00" stroke="#e3e3e3" stroke-width="1.2" />
<line x1="317.50" y1="1252.30" x2="317.50" y2="1327.00" stroke="#e3e3e3" stroke-width="1.2" />
<line x1="364.80" y1="1252.30" x2="364.80" y2="1327.00" stroke="#e3e3e3" stroke-width="1.2" />
<line x1="412.10" y1="1252.30" x2="412.10" y2="1327.00" stroke="#e3e3e3" stroke-width="1.2" />
<line x1="459.40" y1="1252.30" x2="459.40" y2="1327.00" stroke="#e3e3e3" stroke-width="1.2" />
<line x1="506.70" y1="1252.30" x2="506.70" y2="1327.00" stroke="#e3e3e3" stroke-width="1.2" />
<line x1="554.00" y1="1252.30" x2="554.00" y2="1327.00" stroke="#e3e3e3" stroke-width="1.2" />
<line x1="601.30" y1="1252.30" x2="601.30" y2="1327.00" stroke="#e3e3e3" stroke-width="1.2" />
<line x1="648.60" y1="1252.30" x2="648.60" y2="1327.00" stroke="#e3e3e3" stroke-width="1.2" />
<text x="104.65" y="1270.50" font-size="12.3" text-anchor="middle" fill="#5c5c5c" font-family='"Liberation Serif","Noto Sans CJK SC",serif' xml:space="preserve" font-weight="bold">1月末</text>
<text x="104.65" y="1295.00" font-size="12.3" text-anchor="middle" fill="#5c5c5c" font-family='"Liberation Serif","Noto Sans CJK SC",serif' xml:space="preserve" font-weight="bold">4138</text>
<text x="104.65" y="1319.20" font-size="12.3" text-anchor="middle" fill="#5c5c5c" font-family='"Liberation Serif","Noto Sans CJK SC",serif' xml:space="preserve" font-weight="bold">3897</text>
<text x="151.95" y="1270.50" font-size="12.3" text-anchor="middle" fill="#5c5c5c" font-family='"Liberation Serif","Noto Sans CJK SC",serif' xml:space="preserve" font-weight="bold">2月末</text>
<text x="151.95" y="1295.00" font-size="12.3" text-anchor="middle" fill="#5c5c5c" font-family='"Liberation Serif","Noto Sans CJK SC",serif' xml:space="preserve" font-weight="bold">4240</text>
<text x="151.95" y="1319.20" font-size="12.3" text-anchor="middle" fill="#5c5c5c" font-family='"Liberation Serif","Noto Sans CJK SC",serif' xml:space="preserve" font-weight="bold">3872</text>
<text x="199.25" y="1270.50" font-size="12.3" text-anchor="middle" fill="#5c5c5c" font-family='"Liberation Serif","Noto Sans CJK SC",serif' xml:space="preserve" font-weight="bold">3月末</text>
<text x="199.25" y="1295.00" font-size="12.3" text-anchor="middle" fill="#5c5c5c" font-family='"Liberation Serif","Noto Sans CJK SC",serif' xml:space="preserve" font-weight="bold">4169</text>
<text x="199.25" y="1319.20" font-size="12.3" text-anchor="middle" fill="#5c5c5c" font-family='"Liberation Serif","Noto Sans CJK SC",serif' xml:space="preserve" font-weight="bold">3518</text>
<text x="246.55" y="1270.50" font-size="12.3" text-anchor="middle" fill="#5c5c5c" font-family='"Liberation Serif","Noto Sans CJK SC",serif' xml:space="preserve" font-weight="bold">4月末</text>
<text x="246.55" y="1295.00" font-size="12.3" text-anchor="middle" fill="#5c5c5c" font-family='"Liberation Serif","Noto Sans CJK SC",serif' xml:space="preserve" font-weight="bold">3770</text>
<text x="246.55" y="1319.20" font-size="12.3" text-anchor="middle" fill="#5c5c5c" font-family='"Liberation Serif","Noto Sans CJK SC",serif' xml:space="preserve" font-weight="bold">3678</text>
<text x="293.85" y="1270.50" font-size="12.3" text-anchor="middle" fill="#5c5c5c" font-family='"Liberation Serif","Noto Sans CJK SC",serif' xml:space="preserve" font-weight="bold">5月末</text>
<text x="293.85" y="1295.00" font-size="12.3" text-anchor="middle" fill="#5c5c5c" font-family='"Liberation Serif","Noto Sans CJK SC",serif' xml:space="preserve" font-weight="bold">3600</text>
<text x="293.85" y="1319.20" font-size="12.3" text-anchor="middle" fill="#5c5c5c" font-family='"Liberation Serif","Noto Sans CJK SC",serif' xml:space="preserve" font-weight="bold">3747</text>
<text x="341.15" y="1270.50" font-size="12.3" text-anchor="middle" fill="#5c5c5c" font-family='"Liberation Serif","Noto Sans CJK SC",serif' xml:space="preserve" font-weight="bold">6月末</text>
<text x="341.15" y="1295.00" font-size="12.3" text-anchor="middle" fill="#5c5c5c" font-family='"Liberation Serif","Noto Sans CJK SC",serif' xml:space="preserve" font-weight="bold">3729</text>
<text x="341.15" y="1319.20" font-size="12.3" text-anchor="middle" fill="#5c5c5c" font-family='"Liberation Serif","Noto Sans CJK SC",serif' xml:space="preserve" font-weight="bold">3529</text>
<text x="388.45" y="1270.50" font-size="12.3" text-anchor="middle" fill="#5c5c5c" font-family='"Liberation Serif","Noto Sans CJK SC",serif' xml:space="preserve" font-weight="bold">7月末</text>
<text x="388.45" y="1295.00" font-size="12.3" text-anchor="middle" fill="#5c5c5c" font-family='"Liberation Serif","Noto Sans CJK SC",serif' xml:space="preserve" font-weight="bold">3773</text>
<text x="388.45" y="1319.20" font-size="12.3" text-anchor="middle" fill="#5c5c5c" font-family='"Liberation Serif","Noto Sans CJK SC",serif' xml:space="preserve" font-weight="bold">3277</text>
<text x="435.75" y="1270.50" font-size="12.3" text-anchor="middle" fill="#5c5c5c" font-family='"Liberation Serif","Noto Sans CJK SC",serif' xml:space="preserve" font-weight="bold">8月末</text>
<text x="435.75" y="1295.00" font-size="12.3" text-anchor="middle" fill="#5c5c5c" font-family='"Liberation Serif","Noto Sans CJK SC",serif' xml:space="preserve" font-weight="bold">3657</text>
<text x="435.75" y="1319.20" font-size="12.3" text-anchor="middle" fill="#5c5c5c" font-family='"Liberation Serif","Noto Sans CJK SC",serif' xml:space="preserve" font-weight="bold">3237</text>
<text x="483.05" y="1270.50" font-size="12.3" text-anchor="middle" fill="#5c5c5c" font-family='"Liberation Serif","Noto Sans CJK SC",serif' xml:space="preserve" font-weight="bold">9月末</text>
<text x="483.05" y="1295.00" font-size="12.3" text-anchor="middle" fill="#5c5c5c" font-family='"Liberation Serif","Noto Sans CJK SC",serif' xml:space="preserve" font-weight="bold">3699</text>
<text x="483.05" y="1319.20" font-size="12.3" text-anchor="middle" fill="#5c5c5c" font-family='"Liberation Serif","Noto Sans CJK SC",serif' xml:space="preserve" font-weight="bold">3333</text>
<text x="530.35" y="1270.50" font-size="12.3" text-anchor="middle" fill="#5c5c5c" font-family='"Liberation Serif","Noto Sans CJK SC",serif' xml:space="preserve" font-weight="bold">10月末</text>
<text x="530.35" y="1295.00" font-size="12.3" text-anchor="middle" fill="#5c5c5c" font-family='"Liberation Serif","Noto Sans CJK SC",serif' xml:space="preserve" font-weight="bold">3706</text>
<text x="530.35" y="1319.20" font-size="12.3" text-anchor="middle" fill="#5c5c5c" font-family='"Liberation Serif","Noto Sans CJK SC",serif' xml:space="preserve" font-weight="bold">3524</text>
<text x="577.65" y="1270.50" font-size="12.3" text-anchor="middle" fill="#5c5c5c" font-family='"Liberation Serif","Noto Sans CJK SC",serif' xml:space="preserve" font-weight="bold">11月末</text>
<text x="577.65" y="1295.00" font-size="12.3" text-anchor="middle" fill="#5c5c5c" font-family='"Liberation Serif","Noto Sans CJK SC",serif' xml:space="preserve" font-weight="bold">3921</text>
<text x="577.65" y="1319.20" font-size="12.3" text-anchor="middle" fill="#5c5c5c" font-family='"Liberation Serif","Noto Sans CJK SC",serif' xml:space="preserve" font-weight="bold">3338</text>
<text x="624.95" y="1270.50" font-size="12.3" text-anchor="middle" fill="#5c5c5c" font-family='"Liberation Serif","Noto Sans CJK SC",serif' xml:space="preserve" font-weight="bold">12月末</text>
<text x="624.95" y="1295.00" font-size="12.3" text-anchor="middle" fill="#5c5c5c" font-family='"Liberation Serif","Noto Sans CJK SC",serif' xml:space="preserve" font-weight="bold">3935</text>
<text x="624.95" y="1319.20" font-size="12.3" text-anchor="middle" fill="#5c5c5c" font-family='"Liberation Serif","Noto Sans CJK SC",serif' xml:space="preserve" font-weight="bold">3393</text>
<polyline points="104.65,1100.26 151.95,1104.50 199.25,1164.50 246.55,1137.38 293.85,1125.68 341.15,1162.63 388.45,1205.35 435.75,1212.13 483.05,1195.86 530.35,1163.48 577.65,1195.01 624.95,1185.69" fill="none" stroke="#e18a3c" stroke-width="1.6" stroke-linejoin="round" stroke-dasharray="4.5 2.6"/>
<polyline points="104.65,1059.41 151.95,1042.12 199.25,1054.15 246.55,1121.79 293.85,1150.60 341.15,1128.73 388.45,1121.28 435.75,1140.94 483.05,1133.82 530.35,1132.63 577.65,1096.19 624.95,1093.82" fill="none" stroke="#5d9cc9" stroke-width="1.6" stroke-linejoin="round" />
<circle cx="104.65" cy="1100.26" r="2.0" fill="#d9822f"/>
<circle cx="151.95" cy="1104.50" r="2.0" fill="#d9822f"/>
<circle cx="199.25" cy="1164.50" r="2.0" fill="#d9822f"/>
<circle cx="246.55" cy="1137.38" r="2.0" fill="#d9822f"/>
<circle cx="293.85" cy="1125.68" r="2.0" fill="#d9822f"/>
<circle cx="341.15" cy="1162.63" r="2.0" fill="#d9822f"/>
<circle cx="388.45" cy="1205.35" r="2.0" fill="#d9822f"/>
<circle cx="435.75" cy="1212.13" r="2.0" fill="#d9822f"/>
<circle cx="483.05" cy="1195.86" r="2.0" fill="#d9822f"/>
<circle cx="530.35" cy="1163.48" r="2.0" fill="#d9822f"/>
<circle cx="577.65" cy="1195.01" r="2.0" fill="#d9822f"/>
<circle cx="624.95" cy="1185.69" r="2.0" fill="#d9822f"/>
<circle cx="104.65" cy="1059.41" r="1.9" fill="#4a86b4"/>
<circle cx="151.95" cy="1042.12" r="1.9" fill="#4a86b4"/>
<circle cx="199.25" cy="1054.15" r="1.9" fill="#4a86b4"/>
<circle cx="246.55" cy="1121.79" r="1.9" fill="#4a86b4"/>
<circle cx="293.85" cy="1150.60" r="1.9" fill="#4a86b4"/>
<circle cx="341.15" cy="1128.73" r="1.9" fill="#4a86b4"/>
<circle cx="388.45" cy="1121.28" r="1.9" fill="#4a86b4"/>
<circle cx="435.75" cy="1140.94" r="1.9" fill="#4a86b4"/>
<circle cx="483.05" cy="1133.82" r="1.9" fill="#4a86b4"/>
<circle cx="530.35" cy="1132.63" r="1.9" fill="#4a86b4"/>
<circle cx="577.65" cy="1096.19" r="1.9" fill="#4a86b4"/>
<circle cx="624.95" cy="1093.82" r="1.9" fill="#4a86b4"/>
<line x1="18.00" y1="1287.00" x2="39.00" y2="1287.00" stroke="#5d9cc9" stroke-width="1.6" />
<circle cx="28.5" cy="1287" r="1.6" fill="#4a86b4"/>
<line x1="18.00" y1="1310.50" x2="39.00" y2="1310.50" stroke="#e9a35f" stroke-width="1.6" stroke-dasharray="4 2.6"/>
<circle cx="28.5" cy="1310.5" r="1.8" fill="#d9822f"/>
<text x="40.50" y="1295.00" font-size="13" text-anchor="start" fill="#5c5c5c" font-family='"Liberation Serif","Noto Sans CJK SC",serif' xml:space="preserve" font-weight="bold">2023年</text>
<text x="40.50" y="1319.20" font-size="13" text-anchor="start" fill="#5c5c5c" font-family='"Liberation Serif","Noto Sans CJK SC",serif' xml:space="preserve" font-weight="bold">2024年</text>
<text transform="translate(27.6,1133.5) rotate(-90)" font-size="12.5" font-weight="700" text-anchor="middle" fill="#5c5c5c" font-family='"Liberation Sans","Noto Sans CJK SC",sans-serif' textLength="194" lengthAdjust="spacingAndGlyphs">螺纹钢月末价格变化，单位：元/吨</text>
<rect x="4.50" y="1005.50" width="650.00" height="324.00" fill="none" stroke="#474747" stroke-width="2.6" rx="3"/>
<text transform="translate(9.8,1368.8) scale(0.9,1)" font-size="25.5" fill="#111" font-family='"Liberation Sans","Noto Sans CJK SC",sans-serif' letter-spacing="-2.94">图</text>
<text transform="translate(32.8,1368.8) scale(0.927,1)" font-size="27" fill="#111" font-family='"Liberation Sans","Noto Sans CJK SC",sans-serif'>4</text>
<text transform="translate(55.3,1368.8) scale(0.927,1)" font-size="27" fill="#111" font-family='"Liberation Sans","Noto Sans CJK SC",sans-serif'>2000</text>
<text transform="translate(110.0,1368.8) scale(0.9,1)" font-size="25.5" fill="#111" font-family='"Liberation Sans","Noto Sans CJK SC",sans-serif' letter-spacing="-2.94">年</text>
<text transform="translate(131,1368.8) scale(0.927,1)" font-size="27" fill="#111" font-family='"Liberation Sans","Noto Sans CJK SC",sans-serif'>–</text>
<text transform="translate(142.8,1368.8) scale(0.927,1)" font-size="27" fill="#111" font-family='"Liberation Sans","Noto Sans CJK SC",sans-serif'>2023</text>
<text transform="translate(196.5,1368.8) scale(0.9,1)" font-size="25.5" fill="#111" font-family='"Liberation Sans","Noto Sans CJK SC",sans-serif' letter-spacing="-2.94">年</text>
<text transform="translate(218.0,1368.8) scale(0.9,1)" font-size="25.5" fill="#111" font-family='"Liberation Sans","Noto Sans CJK SC",sans-serif' letter-spacing="-2.94">中国钢材进出口量及钢材表观消费量变化趋势图</text>
<rect x="141.56" y="1713.00" width="15.20" height="78.00" fill="#9bd39c" stroke="none" stroke-width="1" />
<rect x="160.14" y="1706.25" width="15.20" height="84.75" fill="#9bd39c" stroke="none" stroke-width="1" />
<rect x="178.72" y="1682.00" width="15.20" height="109.00" fill="#9bd39c" stroke="none" stroke-width="1" />
<rect x="197.30" y="1664.50" width="15.20" height="126.50" fill="#9bd39c" stroke="none" stroke-width="1" />
<rect x="215.88" y="1650.75" width="15.20" height="140.25" fill="#9bd39c" stroke="none" stroke-width="1" />
<rect x="234.46" y="1635.75" width="15.20" height="155.25" fill="#9bd39c" stroke="none" stroke-width="1" />
<rect x="253.04" y="1625.00" width="15.20" height="166.00" fill="#9bd39c" stroke="none" stroke-width="1" />
<rect x="271.62" y="1587.00" width="15.20" height="204.00" fill="#9bd39c" stroke="none" stroke-width="1" />
<rect x="290.20" y="1575.00" width="15.20" height="216.00" fill="#9bd39c" stroke="none" stroke-width="1" />
<rect x="308.78" y="1563.00" width="15.20" height="228.00" fill="#9bd39c" stroke="none" stroke-width="1" />
<rect x="327.36" y="1548.75" width="15.20" height="242.25" fill="#9bd39c" stroke="none" stroke-width="1" />
<rect x="345.94" y="1518.25" width="15.20" height="272.75" fill="#9bd39c" stroke="none" stroke-width="1" />
<rect x="364.52" y="1529.25" width="15.20" height="261.75" fill="#9bd39c" stroke="none" stroke-width="1" />
<rect x="383.10" y="1547.50" width="15.20" height="243.50" fill="#9bd39c" stroke="none" stroke-width="1" />
<rect x="401.68" y="1541.25" width="15.20" height="249.75" fill="#9bd39c" stroke="none" stroke-width="1" />
<rect x="420.26" y="1506.25" width="15.20" height="284.75" fill="#9bd39c" stroke="none" stroke-width="1" />
<rect x="438.84" y="1485.50" width="15.20" height="305.50" fill="#9bd39c" stroke="none" stroke-width="1" />
<rect x="457.42" y="1455.00" width="15.20" height="336.00" fill="#9bd39c" stroke="none" stroke-width="1" />
<rect x="476.00" y="1422.00" width="15.20" height="369.00" fill="#9bd39c" stroke="none" stroke-width="1" />
<rect x="494.58" y="1441.25" width="15.20" height="349.75" fill="#9bd39c" stroke="none" stroke-width="1" />
<rect x="513.16" y="1451.75" width="15.20" height="339.25" fill="#9bd39c" stroke="none" stroke-width="1" />
<rect x="531.74" y="1462.50" width="15.20" height="328.50" fill="#9bd39c" stroke="none" stroke-width="1" />
<rect x="85.00" y="1455.30" width="35.30" height="14.30" fill="#9bd39c" stroke="none" stroke-width="1" />
<line x1="73.50" y1="1760.70" x2="82.50" y2="1760.70" stroke="#000" stroke-width="2.8" />
<text x="66.00" y="1765.40" font-size="14" text-anchor="end" fill="#222" font-family='"Liberation Serif","Noto Serif CJK SC",serif' xml:space="preserve">0</text>
<line x1="73.50" y1="1731.90" x2="78.50" y2="1731.90" stroke="#000" stroke-width="2.6" />
<line x1="73.50" y1="1703.10" x2="82.50" y2="1703.10" stroke="#000" stroke-width="2.8" />
<text x="66.00" y="1707.80" font-size="14" text-anchor="end" fill="#222" font-family='"Liberation Serif","Noto Serif CJK SC",serif' xml:space="preserve" textLength="30.6" lengthAdjust="spacing">2000</text>
<line x1="73.50" y1="1674.30" x2="78.50" y2="1674.30" stroke="#000" stroke-width="2.6" />
<line x1="73.50" y1="1645.50" x2="82.50" y2="1645.50" stroke="#000" stroke-width="2.8" />
<text x="66.00" y="1650.20" font-size="14" text-anchor="end" fill="#222" font-family='"Liberation Serif","Noto Serif CJK SC",serif' xml:space="preserve" textLength="30.6" lengthAdjust="spacing">4000</text>
<line x1="73.50" y1="1616.70" x2="78.50" y2="1616.70" stroke="#000" stroke-width="2.6" />
<line x1="73.50" y1="1587.90" x2="82.50" y2="1587.90" stroke="#000" stroke-width="2.8" />
<text x="66.00" y="1592.60" font-size="14" text-anchor="end" fill="#222" font-family='"Liberation Serif","Noto Serif CJK SC",serif' xml:space="preserve" textLength="30.6" lengthAdjust="spacing">6000</text>
<line x1="73.50" y1="1559.10" x2="78.50" y2="1559.10" stroke="#000" stroke-width="2.6" />
<line x1="73.50" y1="1530.30" x2="82.50" y2="1530.30" stroke="#000" stroke-width="2.8" />
<text x="66.00" y="1535.00" font-size="14" text-anchor="end" fill="#222" font-family='"Liberation Serif","Noto Serif CJK SC",serif' xml:space="preserve" textLength="30.6" lengthAdjust="spacing">8000</text>
<line x1="73.50" y1="1501.50" x2="78.50" y2="1501.50" stroke="#000" stroke-width="2.6" />
<line x1="73.50" y1="1472.70" x2="82.50" y2="1472.70" stroke="#000" stroke-width="2.8" />
<text x="66.00" y="1477.40" font-size="14" text-anchor="end" fill="#222" font-family='"Liberation Serif","Noto Serif CJK SC",serif' xml:space="preserve" textLength="38.3" lengthAdjust="spacing">10000</text>
<line x1="73.50" y1="1443.90" x2="78.50" y2="1443.90" stroke="#000" stroke-width="2.6" />
<line x1="73.50" y1="1415.10" x2="82.50" y2="1415.10" stroke="#000" stroke-width="2.8" />
<text x="66.00" y="1419.80" font-size="14" text-anchor="end" fill="#222" font-family='"Liberation Serif","Noto Serif CJK SC",serif' xml:space="preserve" textLength="38.3" lengthAdjust="spacing">12000</text>
<text x="585.60" y="1795.70" font-size="14" text-anchor="start" fill="#222" font-family='"Liberation Serif","Noto Serif CJK SC",serif' xml:space="preserve">0</text>
<line x1="577.00" y1="1754.27" x2="572.00" y2="1754.27" stroke="#000" stroke-width="2.6" />
<line x1="577.00" y1="1717.54" x2="568.00" y2="1717.54" stroke="#000" stroke-width="2.8" />
<text x="585.60" y="1722.24" font-size="14" text-anchor="start" fill="#222" font-family='"Liberation Serif","Noto Serif CJK SC",serif' xml:space="preserve" textLength="36.3" lengthAdjust="spacing">20000</text>
<line x1="577.00" y1="1680.81" x2="572.00" y2="1680.81" stroke="#000" stroke-width="2.6" />
<line x1="577.00" y1="1644.08" x2="568.00" y2="1644.08" stroke="#000" stroke-width="2.8" />
<text x="585.60" y="1648.78" font-size="14" text-anchor="start" fill="#222" font-family='"Liberation Serif","Noto Serif CJK SC",serif' xml:space="preserve" textLength="36.3" lengthAdjust="spacing">40000</text>
<line x1="577.00" y1="1607.35" x2="572.00" y2="1607.35" stroke="#000" stroke-width="2.6" />
<line x1="577.00" y1="1570.62" x2="568.00" y2="1570.62" stroke="#000" stroke-width="2.8" />
<text x="585.60" y="1575.32" font-size="14" text-anchor="start" fill="#222" font-family='"Liberation Serif","Noto Serif CJK SC",serif' xml:space="preserve" textLength="36.3" lengthAdjust="spacing">60000</text>
<line x1="577.00" y1="1533.89" x2="572.00" y2="1533.89" stroke="#000" stroke-width="2.6" />
<line x1="577.00" y1="1497.16" x2="568.00" y2="1497.16" stroke="#000" stroke-width="2.8" />
<text x="585.60" y="1501.86" font-size="14" text-anchor="start" fill="#222" font-family='"Liberation Serif","Noto Serif CJK SC",serif' xml:space="preserve" textLength="36.3" lengthAdjust="spacing">80000</text>
<line x1="577.00" y1="1460.43" x2="572.00" y2="1460.43" stroke="#000" stroke-width="2.6" />
<line x1="577.00" y1="1423.70" x2="568.00" y2="1423.70" stroke="#000" stroke-width="2.8" />
<text x="585.60" y="1428.40" font-size="14" text-anchor="start" fill="#222" font-family='"Liberation Serif","Noto Serif CJK SC",serif' xml:space="preserve" textLength="44.3" lengthAdjust="spacing">100000</text>
<line x1="112.00" y1="1791.00" x2="112.00" y2="1780.50" stroke="#000" stroke-width="2.8" />
<text x="110.80" y="1809.00" font-size="14" text-anchor="middle" fill="#222" font-family='"Liberation Serif","Noto Serif CJK SC",serif' xml:space="preserve" textLength="29.5" lengthAdjust="spacing">2000</text>
<line x1="158.45" y1="1791.00" x2="158.45" y2="1784.50" stroke="#000" stroke-width="2.6" />
<line x1="204.90" y1="1791.00" x2="204.90" y2="1780.50" stroke="#000" stroke-width="2.8" />
<text x="203.70" y="1809.00" font-size="14" text-anchor="middle" fill="#222" font-family='"Liberation Serif","Noto Serif CJK SC",serif' xml:space="preserve" textLength="29.5" lengthAdjust="spacing">2005</text>
<line x1="251.35" y1="1791.00" x2="251.35" y2="1784.50" stroke="#000" stroke-width="2.6" />
<line x1="297.80" y1="1791.00" x2="297.80" y2="1780.50" stroke="#000" stroke-width="2.8" />
<text x="296.60" y="1809.00" font-size="14" text-anchor="middle" fill="#222" font-family='"Liberation Serif","Noto Serif CJK SC",serif' xml:space="preserve" textLength="29.5" lengthAdjust="spacing">2010</text>
<line x1="344.25" y1="1791.00" x2="344.25" y2="1784.50" stroke="#000" stroke-width="2.6" />
<line x1="390.70" y1="1791.00" x2="390.70" y2="1780.50" stroke="#000" stroke-width="2.8" />
<text x="389.50" y="1809.00" font-size="14" text-anchor="middle" fill="#222" font-family='"Liberation Serif","Noto Serif CJK SC",serif' xml:space="preserve" textLength="29.5" lengthAdjust="spacing">2015</text>
<line x1="437.15" y1="1791.00" x2="437.15" y2="1784.50" stroke="#000" stroke-width="2.6" />
<line x1="483.60" y1="1791.00" x2="483.60" y2="1780.50" stroke="#000" stroke-width="2.8" />
<text x="482.40" y="1809.00" font-size="14" text-anchor="middle" fill="#222" font-family='"Liberation Serif","Noto Serif CJK SC",serif' xml:space="preserve" textLength="29.5" lengthAdjust="spacing">2020</text>
<line x1="530.05" y1="1791.00" x2="530.05" y2="1784.50" stroke="#000" stroke-width="2.6" />
<text x="575.30" y="1809.00" font-size="14" text-anchor="middle" fill="#222" font-family='"Liberation Serif","Noto Serif CJK SC",serif' xml:space="preserve" textLength="29.5" lengthAdjust="spacing">2025</text>
<path d="M117.85 1744.15L124.73 1745.72M136.54 1746.39L143.20 1745.66M155.00 1743.64L161.90 1742.02M171.72 1736.17L182.34 1724.21M190.62 1715.53L200.60 1705.79M206.14 1697.28L222.24 1641.16M224.88 1632.56L240.66 1584.54M247.36 1583.08L255.34 1587.31M261.46 1594.54L278.40 1685.43M280.74 1685.62L296.28 1642.36M302.09 1633.93L312.09 1624.12M320.49 1615.56L330.85 1604.57M339.15 1595.91L349.35 1585.48M354.44 1576.78L371.22 1495.02M373.59 1486.36L389.23 1441.24M395.83 1440.10L404.15 1445.14M410.14 1452.67L427.00 1539.10M432.23 1547.63L442.07 1556.89M451.16 1564.70L460.30 1571.85M467.36 1579.39L481.26 1602.28M485.57 1602.09L500.21 1572.07M508.12 1568.86L514.82 1569.79M521.92 1566.27L538.18 1505.10" fill="none" stroke="#050505" stroke-width="2.8"/>
<rect x="107.40" y="1738.22" width="9.20" height="9.20" fill="#050505" stroke="none" stroke-width="1" />
<rect x="125.98" y="1742.45" width="9.20" height="9.20" fill="#050505" stroke="none" stroke-width="1" />
<rect x="144.56" y="1740.40" width="9.20" height="9.20" fill="#050505" stroke="none" stroke-width="1" />
<rect x="163.14" y="1736.06" width="9.20" height="9.20" fill="#050505" stroke="none" stroke-width="1" />
<rect x="181.72" y="1715.12" width="9.20" height="9.20" fill="#050505" stroke="none" stroke-width="1" />
<rect x="200.30" y="1697.00" width="9.20" height="9.20" fill="#050505" stroke="none" stroke-width="1" />
<rect x="237.46" y="1575.67" width="9.20" height="9.20" fill="#050505" stroke="none" stroke-width="1" />
<rect x="256.04" y="1585.52" width="9.20" height="9.20" fill="#050505" stroke="none" stroke-width="1" />
<rect x="274.62" y="1685.25" width="9.20" height="9.20" fill="#050505" stroke="none" stroke-width="1" />
<rect x="293.20" y="1633.53" width="9.20" height="9.20" fill="#050505" stroke="none" stroke-width="1" />
<rect x="311.78" y="1615.33" width="9.20" height="9.20" fill="#050505" stroke="none" stroke-width="1" />
<rect x="330.36" y="1595.60" width="9.20" height="9.20" fill="#050505" stroke="none" stroke-width="1" />
<rect x="348.94" y="1576.59" width="9.20" height="9.20" fill="#050505" stroke="none" stroke-width="1" />
<rect x="367.52" y="1486.01" width="9.20" height="9.20" fill="#050505" stroke="none" stroke-width="1" />
<rect x="386.10" y="1432.39" width="9.20" height="9.20" fill="#050505" stroke="none" stroke-width="1" />
<rect x="404.68" y="1443.65" width="9.20" height="9.20" fill="#050505" stroke="none" stroke-width="1" />
<rect x="423.26" y="1538.92" width="9.20" height="9.20" fill="#050505" stroke="none" stroke-width="1" />
<rect x="441.84" y="1556.40" width="9.20" height="9.20" fill="#050505" stroke="none" stroke-width="1" />
<rect x="460.42" y="1570.94" width="9.20" height="9.20" fill="#050505" stroke="none" stroke-width="1" />
<rect x="479.00" y="1601.53" width="9.20" height="9.20" fill="#050505" stroke="none" stroke-width="1" />
<rect x="497.58" y="1563.43" width="9.20" height="9.20" fill="#050505" stroke="none" stroke-width="1" />
<rect x="516.16" y="1566.02" width="9.20" height="9.20" fill="#050505" stroke="none" stroke-width="1" />
<rect x="534.74" y="1496.15" width="9.20" height="9.20" fill="#050505" stroke="none" stroke-width="1" />
<path d="M117.97 1726.22L124.61 1725.58M135.92 1722.27L143.82 1718.23M154.32 1712.44L162.58 1707.56M172.32 1700.62L181.74 1692.63M190.33 1684.29L200.89 1672.56M207.35 1664.33L221.03 1643.27M227.23 1634.81L238.31 1620.94M246.58 1612.30L256.12 1603.95M262.90 1603.89L276.96 1628.11M280.80 1627.79L296.22 1586.71M300.40 1578.83L313.78 1559.92M322.07 1558.16L329.27 1560.59M340.71 1564.20L347.79 1566.30M359.54 1567.84L366.12 1567.66M377.46 1564.77L385.36 1560.73M396.70 1558.00L403.28 1558.00M411.98 1554.40L425.16 1536.85M432.50 1529.44L441.80 1521.81M448.75 1514.14L462.71 1490.86M471.02 1487.19L477.60 1487.41M484.88 1483.29L500.90 1429.31M507.22 1428.26L515.72 1433.74M526.16 1434.38L533.94 1430.62" fill="none" stroke="#c81e1e" stroke-width="3.2"/>
<circle cx="112.00" cy="1726.80" r="5.1" fill="#e60f0f"/>
<circle cx="130.58" cy="1725.00" r="5.1" fill="#e60f0f"/>
<circle cx="149.16" cy="1715.50" r="5.1" fill="#e60f0f"/>
<circle cx="167.74" cy="1704.50" r="5.1" fill="#e60f0f"/>
<circle cx="186.32" cy="1688.75" r="5.1" fill="#e60f0f"/>
<circle cx="204.90" cy="1668.10" r="5.1" fill="#e60f0f"/>
<circle cx="223.48" cy="1639.50" r="5.1" fill="#e60f0f"/>
<circle cx="242.06" cy="1616.25" r="5.1" fill="#e60f0f"/>
<circle cx="260.64" cy="1600.00" r="5.1" fill="#e60f0f"/>
<circle cx="279.22" cy="1632.00" r="5.1" fill="#e60f0f"/>
<circle cx="297.80" cy="1582.50" r="5.1" fill="#e60f0f"/>
<circle cx="316.38" cy="1556.25" r="5.1" fill="#e60f0f"/>
<circle cx="334.96" cy="1562.50" r="5.1" fill="#e60f0f"/>
<circle cx="353.54" cy="1568.00" r="5.1" fill="#e60f0f"/>
<circle cx="372.12" cy="1567.50" r="5.1" fill="#e60f0f"/>
<circle cx="390.70" cy="1558.00" r="5.1" fill="#e60f0f"/>
<circle cx="409.28" cy="1558.00" r="5.1" fill="#e60f0f"/>
<circle cx="427.86" cy="1533.25" r="5.1" fill="#e60f0f"/>
<circle cx="446.44" cy="1518.00" r="5.1" fill="#e60f0f"/>
<circle cx="465.02" cy="1487.00" r="5.1" fill="#e60f0f"/>
<circle cx="483.60" cy="1487.60" r="5.1" fill="#e60f0f"/>
<circle cx="502.18" cy="1425.00" r="5.1" fill="#e60f0f"/>
<circle cx="520.76" cy="1437.00" r="5.1" fill="#e60f0f"/>
<circle cx="539.34" cy="1428.00" r="5.1" fill="#e60f0f"/>
<path d="M117.69 1713.62L124.89 1712.22M134.43 1706.77L145.31 1694.51M151.11 1686.34L165.79 1657.48M171.42 1658.14L182.64 1671.83M191.42 1679.07L199.80 1683.58M208.74 1690.69L219.64 1703.04M229.10 1708.82L236.44 1710.69M247.72 1713.38L254.98 1715.00M266.13 1714.39L273.73 1711.80M284.92 1710.99L292.10 1712.32M303.55 1714.14L310.63 1715.07M321.94 1717.48L329.40 1719.70M340.75 1720.98L347.75 1720.53M359.33 1719.84L366.33 1719.46M377.74 1720.58L385.08 1722.46M396.49 1723.51L403.49 1723.04M415.08 1722.57L422.06 1722.48M433.66 1722.51L440.64 1722.65M452.19 1723.55L459.27 1724.50M468.68 1720.78L479.94 1706.94M487.86 1706.37L497.92 1715.67M507.21 1722.49L515.73 1727.37M526.04 1732.65L534.06 1736.28" fill="none" stroke="#1212b0" stroke-width="3.2"/>
<polygon points="112.00,1709.54 116.40,1714.74 112.00,1719.94 107.60,1714.74" fill="#1212b0"/>
<polygon points="130.58,1705.91 134.98,1711.11 130.58,1716.31 126.18,1711.11" fill="#1212b0"/>
<polygon points="149.16,1684.97 153.56,1690.17 149.16,1695.37 144.76,1690.17" fill="#1212b0"/>
<polygon points="167.74,1648.45 172.14,1653.65 167.74,1658.85 163.34,1653.65" fill="#1212b0"/>
<polygon points="186.32,1671.12 190.72,1676.32 186.32,1681.52 181.92,1676.32" fill="#1212b0"/>
<polygon points="204.90,1681.14 209.30,1686.34 204.90,1691.54 200.50,1686.34" fill="#1212b0"/>
<polygon points="223.48,1702.19 227.88,1707.39 223.48,1712.59 219.08,1707.39" fill="#1212b0"/>
<polygon points="242.06,1706.91 246.46,1712.11 242.06,1717.31 237.66,1712.11" fill="#1212b0"/>
<polygon points="260.64,1711.06 265.04,1716.26 260.64,1721.46 256.24,1716.26" fill="#1212b0"/>
<polygon points="279.22,1704.73 283.62,1709.93 279.22,1715.13 274.82,1709.93" fill="#1212b0"/>
<polygon points="297.80,1708.18 302.20,1713.38 297.80,1718.58 293.40,1713.38" fill="#1212b0"/>
<polygon points="316.38,1710.63 320.78,1715.83 316.38,1721.03 311.98,1715.83" fill="#1212b0"/>
<polygon points="334.96,1716.16 339.36,1721.36 334.96,1726.56 330.56,1721.36" fill="#1212b0"/>
<polygon points="353.54,1714.95 357.94,1720.15 353.54,1725.35 349.14,1720.15" fill="#1212b0"/>
<polygon points="372.12,1713.94 376.52,1719.14 372.12,1724.34 367.72,1719.14" fill="#1212b0"/>
<polygon points="390.70,1718.69 395.10,1723.89 390.70,1729.09 386.30,1723.89" fill="#1212b0"/>
<polygon points="409.28,1717.46 413.68,1722.66 409.28,1727.86 404.88,1722.66" fill="#1212b0"/>
<polygon points="427.86,1717.20 432.26,1722.40 427.86,1727.60 423.46,1722.40" fill="#1212b0"/>
<polygon points="446.44,1717.57 450.84,1722.77 446.44,1727.97 442.04,1722.77" fill="#1212b0"/>
<polygon points="465.02,1720.08 469.42,1725.28 465.02,1730.48 460.62,1725.28" fill="#1212b0"/>
<polygon points="483.60,1697.24 488.00,1702.44 483.60,1707.64 479.20,1702.44" fill="#1212b0"/>
<polygon points="502.18,1714.40 506.58,1719.60 502.18,1724.80 497.78,1719.60" fill="#1212b0"/>
<polygon points="520.76,1725.06 525.16,1730.26 520.76,1735.46 516.36,1730.26" fill="#1212b0"/>
<polygon points="539.34,1733.47 543.74,1738.67 539.34,1743.87 534.94,1738.67" fill="#1212b0"/>
<rect x="73.50" y="1388.50" width="503.50" height="402.50" fill="none" stroke="#000" stroke-width="3.0" />
<line x1="84.80" y1="1406.60" x2="120.30" y2="1406.60" stroke="#050505" stroke-width="2.7" />
<rect x="101.50" y="1402.20" width="9.40" height="9.00" fill="#050505" stroke="none" stroke-width="1" />
<line x1="84.80" y1="1425.50" x2="120.30" y2="1425.50" stroke="#c81e1e" stroke-width="3.0" />
<circle cx="104" cy="1425.5" r="5.4" fill="#e60f0f"/>
<line x1="84.80" y1="1444.90" x2="120.30" y2="1444.90" stroke="#1212b0" stroke-width="3.0" />
<polygon points="103,1440.6 106.6,1444.9 103,1449.2 99.4,1444.9" fill="#1212b0"/>
<text x="127.40" y="1412.60" font-size="17" text-anchor="start" fill="#3a3a3a" font-family='"Liberation Serif","Noto Serif CJK SC",serif' xml:space="preserve" letter-spacing="0.5">钢材直接出口量</text>
<text x="127.40" y="1431.80" font-size="17" text-anchor="start" fill="#3a3a3a" font-family='"Liberation Serif","Noto Serif CJK SC",serif' xml:space="preserve" letter-spacing="0.5">钢铁制品间接出口量</text>
<text x="127.40" y="1451.00" font-size="17" text-anchor="start" fill="#3a3a3a" font-family='"Liberation Serif","Noto Serif CJK SC",serif' xml:space="preserve" letter-spacing="0.5">钢材进口量</text>
<text x="127.40" y="1468.60" font-size="17" text-anchor="start" fill="#3a3a3a" font-family='"Liberation Serif","Noto Serif CJK SC",serif' xml:space="preserve" letter-spacing="0.5">钢材表观消费量</text>
<text x="78.00" y="1719.50" font-size="12.2" text-anchor="start" fill="#1f3a93" font-family='"Liberation Serif","Noto Serif CJK SC",serif' xml:space="preserve">1596</text>
<text x="78.00" y="1732.60" font-size="12.2" text-anchor="start" fill="#a83232" font-family='"Liberation Serif","Noto Serif CJK SC",serif' xml:space="preserve">1169</text>
<text x="85.00" y="1749.00" font-size="12.2" text-anchor="start" fill="#1a1a1a" font-family='"Liberation Serif","Noto Serif CJK SC",serif' xml:space="preserve">621</text>
<text x="180.50" y="1662.00" font-size="12.2" text-anchor="start" fill="#a83232" font-family='"Liberation Serif","Noto Serif CJK SC",serif' xml:space="preserve">3203</text>
<text x="210.00" y="1691.50" font-size="12.2" text-anchor="start" fill="#1f3a93" font-family='"Liberation Serif","Noto Serif CJK SC",serif' xml:space="preserve">2582</text>
<text x="227.50" y="1575.80" font-size="12.2" text-anchor="start" fill="#1a1a1a" font-family='"Liberation Serif","Noto Serif CJK SC",serif' xml:space="preserve">6265</text>
<text x="273.80" y="1575.60" font-size="12.2" text-anchor="start" fill="#a83232" font-family='"Liberation Serif","Noto Serif CJK SC",serif' xml:space="preserve">6201</text>
<text x="265.50" y="1703.70" font-size="12.2" text-anchor="start" fill="#1a1a1a" font-family='"Liberation Serif","Noto Serif CJK SC",serif' xml:space="preserve">2460</text>
<text x="285.00" y="1729.50" font-size="12.2" text-anchor="start" fill="#1f3a93" font-family='"Liberation Serif","Noto Serif CJK SC",serif' xml:space="preserve">1643</text>
<text x="377.00" y="1431.20" font-size="12.2" text-anchor="start" fill="#1a1a1a" font-family='"Liberation Serif","Noto Serif CJK SC",serif' xml:space="preserve">11240</text>
<text x="373.80" y="1550.20" font-size="12.2" text-anchor="start" fill="#a1552a" font-family='"Liberation Serif","Noto Serif CJK SC",serif' xml:space="preserve">7046</text>
<text x="378.00" y="1740.00" font-size="12.2" text-anchor="start" fill="#1f3a93" font-family='"Liberation Serif","Noto Serif CJK SC",serif' xml:space="preserve">1278</text>
<text x="470.00" y="1506.50" font-size="12.2" text-anchor="start" fill="#a1552a" font-family='"Liberation Serif","Noto Serif CJK SC",serif' xml:space="preserve">9500</text>
<text x="470.00" y="1625.20" font-size="12.2" text-anchor="start" fill="#1a1a1a" font-family='"Liberation Serif","Noto Serif CJK SC",serif' xml:space="preserve">5367</text>
<text x="469.00" y="1697.70" font-size="12.2" text-anchor="start" fill="#1f3a93" font-family='"Liberation Serif","Noto Serif CJK SC",serif' xml:space="preserve">2023</text>
<text x="531.20" y="1754.00" font-size="12.2" text-anchor="start" fill="#1f3a93" font-family='"Liberation Serif","Noto Serif CJK SC",serif' xml:space="preserve">765</text>
<text x="526.30" y="1496.20" font-size="12.2" text-anchor="start" fill="#1a1a1a" font-family='"Liberation Serif","Noto Serif CJK SC",serif' xml:space="preserve">9026</text>
<text x="524.50" y="1420.50" font-size="12.2" text-anchor="start" fill="#c22a2a" font-family='"Liberation Serif","Noto Serif CJK SC",serif' xml:space="preserve">11600</text>
<text x="326.50" y="1834.20" font-size="16" text-anchor="middle" fill="#333" font-family='"Liberation Serif","Noto Serif CJK SC",serif' xml:space="preserve" letter-spacing="2">年份</text>
<text transform="translate(21.8,1570.0) rotate(-90)" font-size="17" text-anchor="middle" fill="#444" font-family='"Liberation Serif","Noto Serif CJK SC",serif' textLength="191" lengthAdjust="spacing">钢材进出口量/万吨</text>
<text transform="translate(653.3,1564.3) rotate(-90)" font-size="17" text-anchor="middle" fill="#444" font-family='"Liberation Serif","Noto Serif CJK SC",serif' textLength="211" lengthAdjust="spacing">钢材表观消费量/万吨</text>
</svg>
</body></html>
